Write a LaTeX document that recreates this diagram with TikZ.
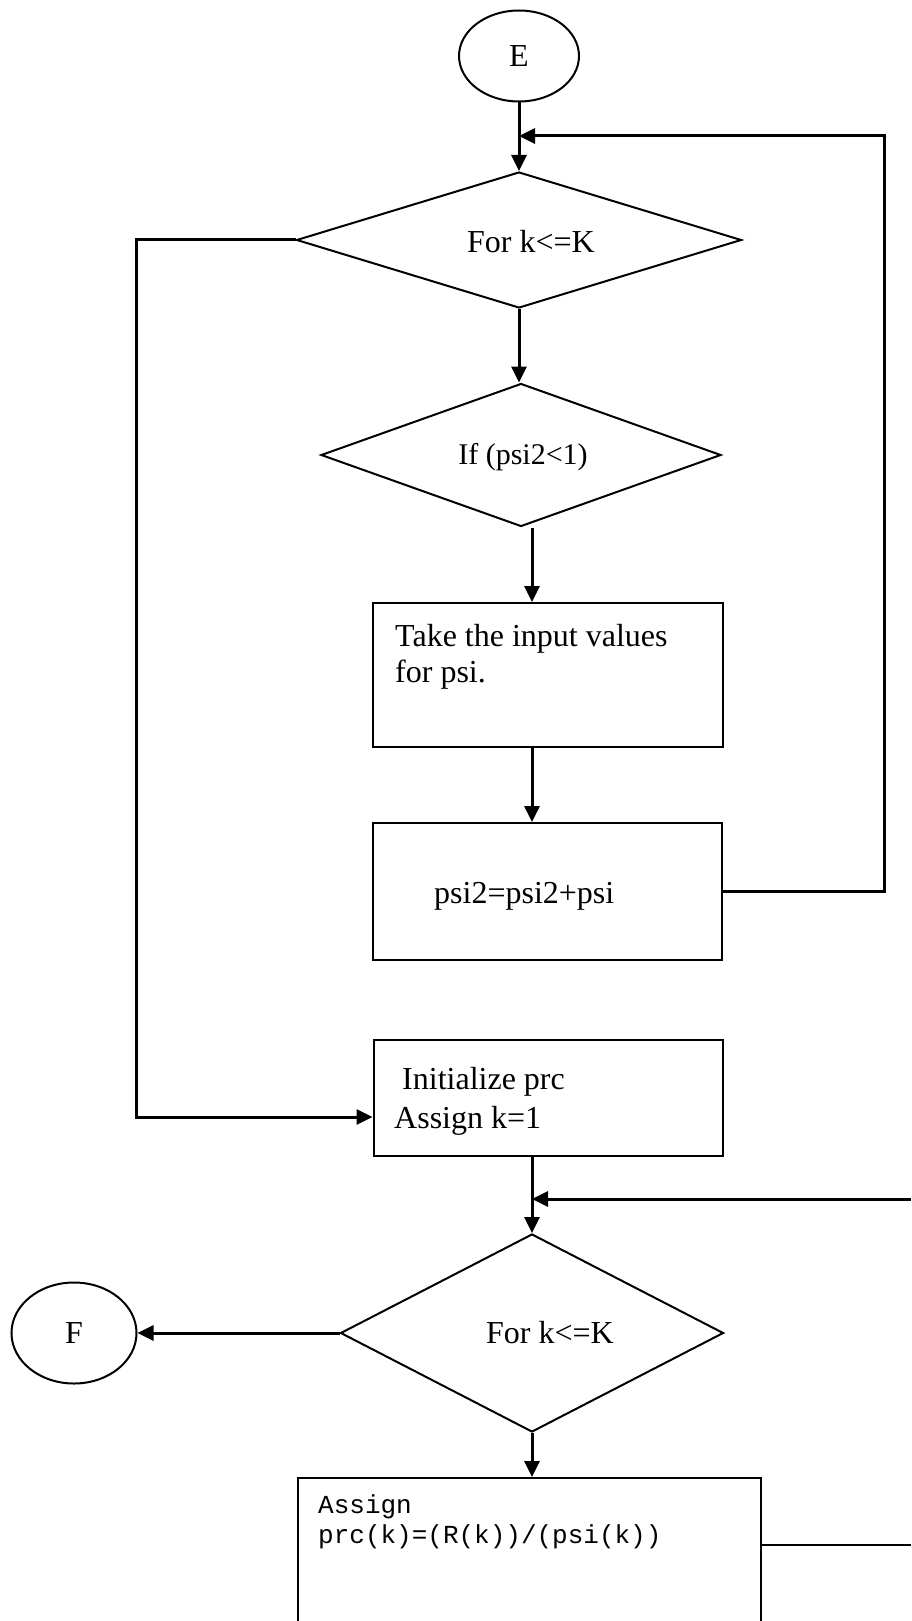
\documentclass[tikz,border=0pt]{standalone}
\usepackage{fontspec}
\setmainfont{Liberation Serif}
\setmonofont{Liberation Mono}
\usetikzlibrary{arrows.meta,shapes.geometric}
\begin{document}
\begin{tikzpicture}[x=1pt,y=-1pt,
  shapeline/.style={draw,line width=2pt},
  term/.style={shapeline,ellipse,inner sep=0pt,font=\fontsize{32}{36}\selectfont},
  decision/.style={shapeline,diamond,inner sep=0pt},
  stepbox/.style={shapeline,rectangle,inner sep=0pt},
  lbl/.style={inner sep=0pt,font=\fontsize{32}{36}\selectfont},
  codelbl/.style={inner sep=0pt,font=\ttfamily\fontsize{26}{30}\selectfont},
  flow/.style={line width=3pt,-{Triangle[length=16pt,width=15pt]}},
  link/.style={line width=2.4pt}
]
\useasboundingbox (0,0) rectangle (911,1621);
\clip (0,0) rectangle (911,1621);

% shapes
\node[term, minimum width=120pt, minimum height=91pt] (E) at (519,56) {E};
\node[decision, minimum width=445pt, minimum height=136pt] (d1) at (519,240) {};
\node[lbl, anchor=base] (t1) at (531,252) {For k<=K};
\node[decision, minimum width=400pt, minimum height=143pt] (d2) at (521,455) {};
\node[lbl, anchor=base, font=\fontsize{30}{34}\selectfont] (t2) at (523,464) {If (psi2<1)};
\node[stepbox, minimum width=350pt, minimum height=144pt] (b1) at (548,675) {};
\node[lbl, anchor=base west] (t3a) at (395,646) {Take the input values};
\node[lbl, anchor=base west] (t3b) at (395,682) {for psi.};
\node[stepbox, minimum width=349pt, minimum height=137pt] (b2) at (547.5,891.5) {};
\node[lbl, anchor=base west] (t4) at (434,903) {psi2=psi2+psi};
\node[stepbox, minimum width=349pt, minimum height=116pt] (b3) at (548,1098) {};
\node[lbl, anchor=base west] (t5a) at (402,1089) {Initialize prc};
\node[lbl, anchor=base west] (t5b) at (394,1128) {Assign k=1};
\node[decision, minimum width=383pt, minimum height=198pt] (d3) at (532,1333) {};
\node[lbl, anchor=base] (t6) at (550,1343) {For k<=K};
\node[term, minimum width=125pt, minimum height=101pt] (F) at (74,1333) {F};
\node[stepbox, minimum width=463pt, minimum height=182pt] (b4) at (529.5,1569) {};
\node[codelbl, anchor=base west] (t7a) at (318,1513) {Assign};
\node[codelbl, anchor=base west] (t7b) at (318,1543) {prc(k)=(R(k))/(psi(k))};

% helper points for the loops
\coordinate (col) at (532,0);
\coordinate (jtop) at (884,136);
\coordinate (lft) at (136,1117);
\coordinate (jbot) at (911,1199);
\coordinate (out) at (911,1545);

% connectors
\draw[flow] (E.south) -- (d1.north);
\draw[flow] (b2.east) -| (jtop) -- (jtop -| E.south);
\draw[flow] (d1.south) -- (d1.south |- d2.north);
\draw[flow] (d2.south -| col) -- (b1.north -| col);
\draw[flow] (b1.south -| col) -- (b2.north -| col);
\draw[flow] (d1.west) -- (d1.west -| lft) -- (lft) -- (lft -| b3.west);
\draw[flow] (b3.south -| d3.north) -- (d3.north);
\draw[flow] (jbot) -- (jbot -| d3.north);
\draw[flow] (d3.west) -- (F.east);
\draw[flow] (d3.south) -- (d3.south |- b4.north);
\draw[link] (b4.east |- out) -- (out);
\end{tikzpicture}
\end{document}
